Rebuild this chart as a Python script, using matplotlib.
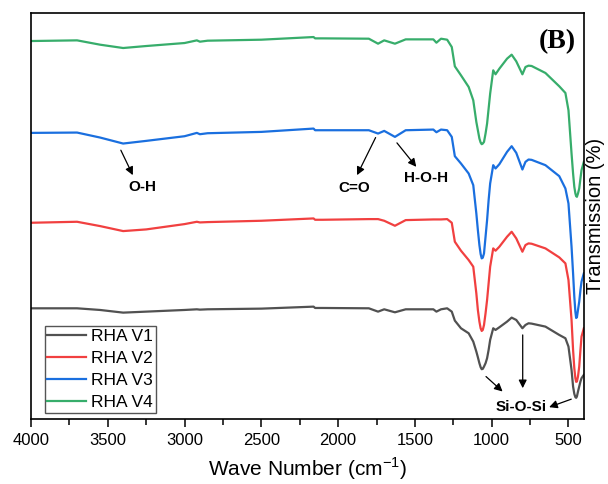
import numpy as np
import matplotlib
matplotlib.use("Agg")
import matplotlib.pyplot as plt
from matplotlib.ticker import MultipleLocator

plt.rcParams['font.family'] = ['Liberation Sans', 'DejaVu Sans']
plt.rcParams['mathtext.fontset'] = 'custom'
plt.rcParams['mathtext.rm'] = 'Liberation Sans'

# Волновые числа (см^-1), общие для всех спектров
wave_number = [4000, 3700, 3550, 3400, 3250, 3000, 2920, 2900, 2850, 2500, 2160, 2150, 2100,
               1800, 1740, 1700, 1630, 1560, 1380, 1360, 1330, 1290, 1260, 1240, 1200, 1150,
               1120, 1100, 1090, 1080, 1072, 1065, 1058, 1050, 1040, 1030, 1020, 1010, 990,
               975, 950, 900, 870, 840, 800, 780, 760, 740, 650, 560, 520, 500, 480, 470,
               462, 455, 450, 445, 438, 430, 422, 415, 400]

# Пропускание (условные единицы, со смещением по вертикали)
rha_v1 = [33.5, 33.5, 33.0, 32.2, 32.5, 33.0, 33.2, 33.1, 33.2, 33.4, 34.0, 33.6, 33.6,
          33.5, 32.5, 33.2, 32.3, 33.2, 33.2, 32.5, 33.2, 33.5, 32.5, 29.8, 27.5, 26.0,
          23.5, 20.5, 18.8, 17.0, 15.8, 15.2, 15.3, 16.0, 17.0, 18.5, 21.0, 24.0, 27.5,
          27.0, 27.8, 29.5, 30.7, 30.0, 27.5, 28.5, 29.0, 28.9, 28.0, 25.5, 24.5, 22.0, 15.0, 10.0,
          7.8, 6.8, 6.6, 7.0, 8.5, 10.0, 11.5, 12.5, 13.5]
rha_v2 = [59.2, 59.5, 58.2, 56.7, 57.2, 58.8, 59.5, 59.3, 59.4, 59.8, 60.5, 60.1, 60.1,
          60.3, 60.3, 59.8, 58.3, 60.0, 60.2, 60.2, 60.2, 60.3, 59.2, 53.5, 50.8, 48.0,
          46.0, 38.0, 33.0, 29.5, 27.5, 26.7, 27.0, 28.5, 32.0, 36.0, 41.0, 46.0, 51.5,
          50.8, 52.0, 55.0, 56.5, 54.5, 50.5, 52.5, 53.0, 52.9, 51.5, 48.8, 47.0, 42.0, 30.0, 21.0,
          15.5, 12.5, 11.4, 11.5, 13.0, 16.0, 21.0, 25.0, 27.5]
rha_v3 = [86.2, 86.3, 84.8, 83.0, 83.8, 85.2, 86.2, 85.8, 86.1, 86.5, 87.5, 87.0, 87.0,
          87.0, 86.0, 86.8, 85.0, 87.0, 87.2, 86.4, 87.2, 87.0, 85.0, 79.2, 77.0, 74.0,
          70.5, 62.0, 57.0, 52.5, 49.8, 48.5, 48.7, 50.0, 55.0, 60.0, 66.0, 71.0, 76.5,
          75.5, 76.8, 80.5, 82.2, 80.2, 75.2, 77.5, 78.2, 78.1, 76.5, 73.2, 69.5, 65.0, 52.0, 44.0,
          37.0, 32.5, 30.6, 30.8, 33.0, 35.5, 39.0, 41.5, 44.0]
rha_v4 = [113.8, 114.0, 112.7, 111.7, 112.3, 113.2, 114.0, 113.6, 113.9, 114.2, 115.0, 114.6, 114.6,
          114.5, 113.0, 114.0, 113.0, 114.3, 114.3, 113.3, 114.5, 114.2, 112.0, 106.2, 103.5, 100.0,
          96.0, 89.5, 87.0, 84.5, 83.3, 82.8, 83.0, 83.5, 86.0, 89.0, 93.5, 98.0, 105.0,
          103.8, 105.5, 108.5, 109.7, 107.7, 103.8, 106.0, 106.4, 106.3, 104.2, 100.2, 98.2, 93.0, 80.0, 74.0,
          70.0, 68.0, 67.2, 67.0, 68.0, 69.5, 72.5, 75.0, 77.5]

labels = ['RHA V1', 'RHA V2', 'RHA V3', 'RHA V4']
colors = ['#515151', '#F14040', '#1A6FDF', '#37AD6B']

fig = plt.figure(figsize=(6.08, 4.84), dpi=100)
ax = fig.add_axes([0.051, 0.134, 0.910, 0.839])

for y, lab, c in zip([rha_v1, rha_v2, rha_v3, rha_v4], labels, colors):
    ax.plot(wave_number, y, color=c, lw=1.6, label=lab)

ax.set_xlim(4000, 397)
ax.set_ylim(0.2, 122.2)
ax.xaxis.set_major_locator(MultipleLocator(500))
ax.xaxis.set_minor_locator(MultipleLocator(250))
ax.tick_params(axis='x', which='major', direction='out', length=6, width=1.1, labelsize=12, pad=4)
ax.tick_params(axis='x', which='minor', direction='out', length=4, width=1.1)
ax.set_yticks([])
for s in ax.spines.values():
    s.set_linewidth(1.2)

ax.set_xlabel(r'Wave Number (cm$^{\mathregular{-1}}$)', fontsize=15, labelpad=5)
ax.yaxis.set_label_position('right')
ax.set_ylabel('Transmission (%)', fontsize=14.5, labelpad=1)

# Подписи полос поглощения
arrow = dict(arrowstyle='-|>', color='black', lw=0.9, mutation_scale=12, shrinkA=0, shrinkB=0)
ax.annotate('', xy=(3337, 73.5), xytext=(3415, 81), arrowprops=arrow)
ax.text(3274, 70, 'O-H', fontsize=11, fontweight='bold', ha='center', va='center')
ax.annotate('', xy=(1877, 73.5), xytext=(1756, 84.8), arrowprops=arrow)
ax.text(1894, 69.5, 'C=O', fontsize=11, fontweight='bold', ha='center', va='center')
ax.annotate('', xy=(1491, 76), xytext=(1617, 83.2), arrowprops=arrow)
ax.text(1428, 72.5, 'H-O-H', fontsize=11, fontweight='bold', ha='center', va='center')
ax.annotate('', xy=(929, 8.5), xytext=(1037, 13), arrowprops=arrow)
ax.annotate('', xy=(798, 9.5), xytext=(798, 25.5), arrowprops=arrow)
ax.annotate('', xy=(626, 3.8), xytext=(482, 6.2), arrowprops=arrow)
ax.text(810, 3.8, 'Si-O-Si', fontsize=11, fontweight='bold', ha='center', va='center')

ax.text(571, 113.7, '(B)', fontsize=20, fontweight='bold', family='Liberation Serif',
        ha='center', va='center')

leg = ax.legend(loc='lower left', bbox_to_anchor=(0.025, 0.015), borderaxespad=0,
                fontsize=12.5, labelspacing=0.4, handlelength=2.2, handletextpad=0.32,
                borderpad=0.15, fancybox=False, framealpha=1, edgecolor='#555555')
leg.get_frame().set_linewidth(1.0)

fig.savefig('out.png', dpi=100)
